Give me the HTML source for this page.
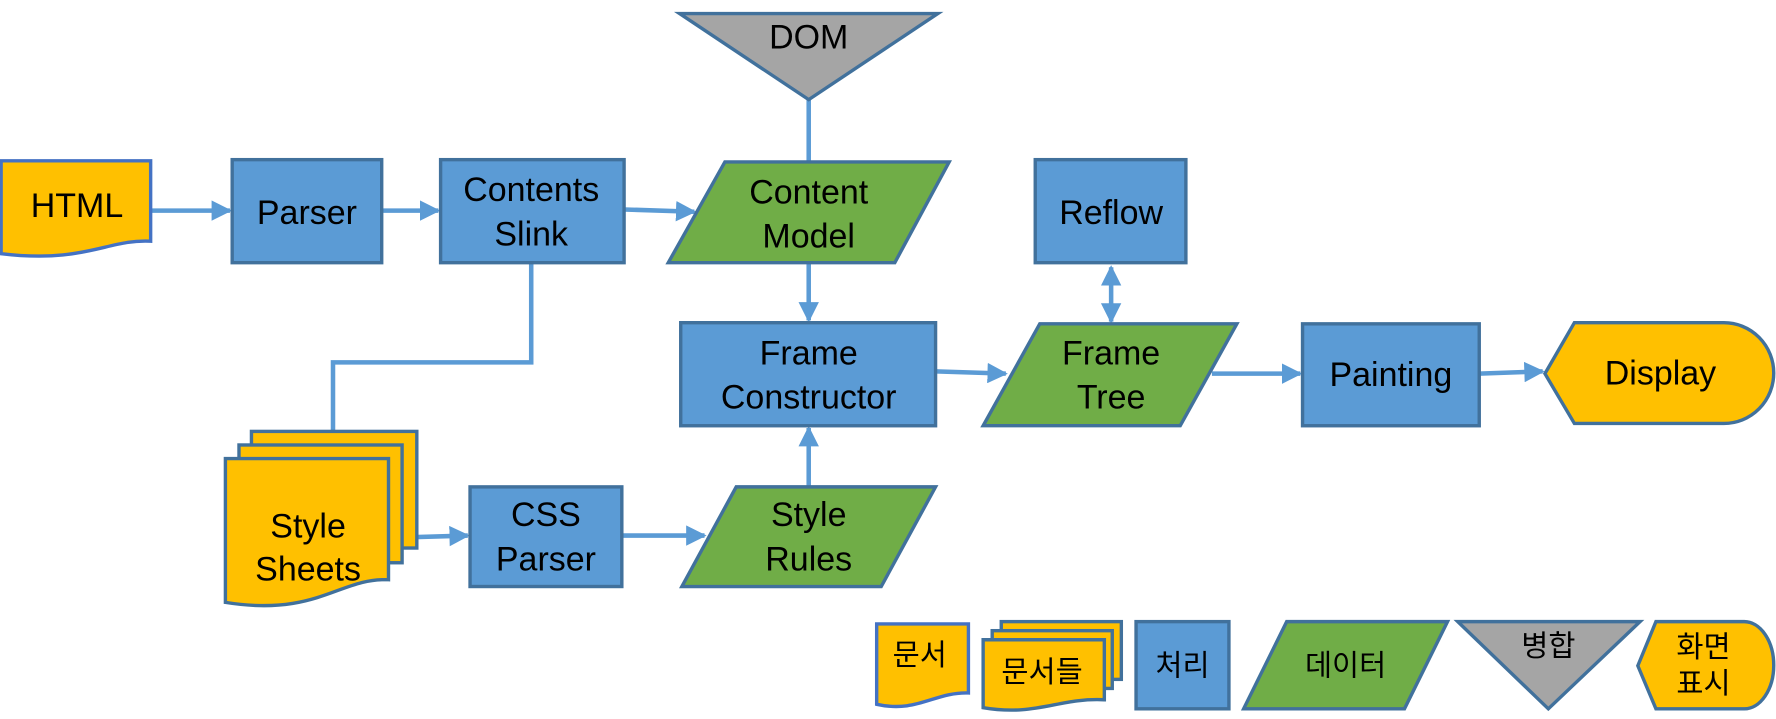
<!DOCTYPE html>
<html><head><meta charset="utf-8"><style>
html,body{margin:0;padding:0;background:#fff;}
svg{display:block}
text{font-family:"Liberation Sans","Noto Sans CJK KR",sans-serif;fill:#000;text-anchor:middle;dominant-baseline:central}
</style></head><body>
<svg width="1776" height="719" viewBox="0 0 1568 635" preserveAspectRatio="none" xmlns="http://www.w3.org/2000/svg">
<defs>
<marker id="a" viewBox="0 0 10 10" refX="9" refY="5" markerWidth="4.5" markerHeight="4.5" orient="auto-start-reverse" markerUnits="strokeWidth">
<path d="M0,0 L10,5 L0,10 z" fill="#5B9BD5"/></marker>
</defs>
<g stroke="#5B9BD5" stroke-width="4" fill="none">
<line x1="714" y1="88" x2="714" y2="143"/>
<line x1="133" y1="186" x2="203" y2="186" marker-end="url(#a)"/>
<line x1="337" y1="186" x2="387" y2="186" marker-end="url(#a)"/>
<line x1="551" y1="185" x2="613" y2="187" marker-end="url(#a)"/>
<line x1="714" y1="232" x2="714" y2="283" marker-end="url(#a)"/>
<line x1="981" y1="236" x2="981" y2="284" marker-start="url(#a)" marker-end="url(#a)"/>
<line x1="826" y1="328" x2="888" y2="330" marker-end="url(#a)"/>
<line x1="1070" y1="330" x2="1148" y2="330" marker-end="url(#a)"/>
<line x1="1306" y1="330" x2="1362" y2="328" marker-end="url(#a)"/>
<polyline points="469,232 469,320 294,320 294,405" marker-end="url(#a)"/>
<line x1="343" y1="475" x2="413" y2="473" marker-end="url(#a)"/>
<line x1="549" y1="473" x2="622" y2="473" marker-end="url(#a)"/>
<line x1="714" y1="430" x2="714" y2="378" marker-end="url(#a)"/>
</g>
<g stroke="#41719C" stroke-width="3">
<polygon points="600,12 828,12 714,88" fill="#A5A5A5"/>
<path d="M1,142 H133 V213 C95,211 75,233 1,224 Z" fill="#FFC000" stroke="#4472C4"/>
<rect x="205" y="141" width="132" height="91" fill="#5B9BD5"/>
<rect x="389" y="141" width="162" height="91" fill="#5B9BD5"/>
<polygon points="590,232 640,143 838,143 790,232" fill="#70AD47"/>
<rect x="601" y="285" width="225" height="91" fill="#5B9BD5"/>
<rect x="914" y="141" width="133" height="91" fill="#5B9BD5"/>
<polygon points="868,376 918,286 1092,286 1042,376" fill="#70AD47"/>
<rect x="1150" y="286" width="156" height="90" fill="#5B9BD5"/>
<path d="M1364,330 L1390,285 H1522 A44,44.5 0 0 1 1522,374 H1390 Z" fill="#FFC000"/>
<rect x="222" y="381" width="146" height="103" fill="#FFC000"/>
<rect x="211" y="393" width="144" height="104" fill="#FFC000"/>
<path d="M199,405 H343 V512 C300,510 280,545 199,532 Z" fill="#FFC000"/>
<rect x="415" y="430" width="134" height="88" fill="#5B9BD5"/>
<polygon points="602,518 650,430 826,430 778,518" fill="#70AD47"/>
<path d="M774,551 H855 V612 C825,611 810,630 774,622 Z" fill="#FFC000" stroke="#4472C4"/>
<rect x="884" y="549" width="106" height="51" fill="#FFC000"/>
<rect x="876" y="557" width="106" height="51" fill="#FFC000"/>
<path d="M868,565 H975 V618 C935,616 915,633 868,625 Z" fill="#FFC000"/>
<rect x="1003" y="549" width="82" height="77" fill="#5B9BD5"/>
<polygon points="1098,626 1136,549 1278,549 1240,626" fill="#70AD47"/>
<polygon points="1287,549 1448,549 1367,626" fill="#A5A5A5"/>
<path d="M1446,588 L1462,549 H1540 A26,38.5 0 0 1 1540,626 H1462 Z" fill="#FFC000"/>
</g>
<g font-size="30">
<text x="714" y="33">DOM</text>
<text x="68" y="182">HTML</text>
<text x="271" y="188">Parser</text>
<text x="469" y="168">Contents</text>
<text x="469" y="207">Slink</text>
<text x="714" y="170">Content</text>
<text x="714" y="209">Model</text>
<text x="714" y="312">Frame</text>
<text x="714" y="351">Constructor</text>
<text x="981" y="188">Reflow</text>
<text x="981" y="312">Frame</text>
<text x="981" y="351">Tree</text>
<text x="1228" y="331">Painting</text>
<text x="1466" y="330">Display</text>
<text x="272" y="465">Style</text>
<text x="272" y="503">Sheets</text>
<text x="482" y="455">CSS</text>
<text x="482" y="494">Parser</text>
<text x="714" y="455">Style</text>
<text x="714" y="494">Rules</text>
</g>
<g font-size="26">
<text x="812" y="579">문서</text>
<text x="920" y="594">문서들</text>
<text x="1044" y="588">처리</text>
<text x="1188" y="588">데이터</text>
<text x="1367" y="571">병합</text>
<text x="1504" y="572">화면</text>
<text x="1504" y="604">표시</text>
</g>
</svg>
</body></html>
